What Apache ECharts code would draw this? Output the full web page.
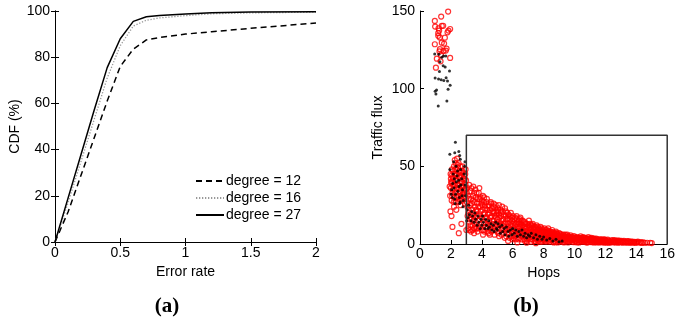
<!DOCTYPE html>
<html>
<head>
<meta charset="utf-8">
<script src="https://cdn.jsdelivr.net/npm/echarts@6/dist/echarts.min.js"></script>
<style>
  html, body { margin: 0; padding: 0; background: #fff; }
  #chart { width: 678px; height: 322px; }
</style>
</head>
<body>
<div id="chart"></div>
<script>
// ---- (a) CDF of error rate for three node degrees ----
const errorRate = [0, 0.1, 0.2, 0.3, 0.4, 0.5, 0.6, 0.7, 0.8, 1.0, 1.2, 1.5, 2.0];
const cdfDegree12 = [0, 13, 29, 45, 61, 76, 83.5, 87.5, 88.5, 90, 91, 92.5, 94.8];
const cdfDegree16 = [0, 17, 35, 53, 71, 85, 93.5, 96, 97, 98, 98.8, 99.2, 99.5];
const cdfDegree27 = [0, 19, 38, 57, 75.5, 88, 95.5, 97.5, 98, 98.7, 99.2, 99.6, 99.7];
const legendNames = ['degree = 12', 'degree = 16', 'degree = 27'];
const xTicksA = [0, 0.5, 1, 1.5, 2];
const yTicksA = [0, 20, 40, 60, 80, 100];

// ---- (b) traffic flux against hop count ----
// red circles: [hops, flux]
const redFlux = [
  // short paths, heavy traffic
  [0.96,143.6],[1.37,146.4],[1.82,149.6],[1.41,140.4],[0.98,140],[1.2,138.9],[1.24,137.4],[1.18,135.7],
  [1.95,138.4],[1.84,137.4],[1.78,136.3],[1.61,132.8],[1.18,134],[1.41,129.6],[1.56,129],[0.96,128.6],
  [1.72,125.8],[1.29,125.4],[1.26,124],[1.52,124.3],[1.67,124.5],[1.35,121.7],[1.95,119.8],[1.09,119.3],
  [1.33,117.6],[1.03,113.5],[1.28,133],[1.5,140.5],
  // two hops
  [2.0,42],[2.05,44],[2.1,40],[2.15,47],[2.2,50],[2.25,54],[2.3,52],[2.35,48],[2.4,45],[2.45,49],
  [2.5,52],[2.55,47],[2.6,43],[2.65,40],[2.7,44],[2.8,46],[2.9,42],[2.95,38],[2.0,36],[2.1,33],
  [2.15,38],[2.25,35],[2.3,41],[2.4,38],[2.5,36],[2.6,34],[2.7,37],[2.8,33],[2.9,35],[1.95,31],
  [2.05,28],[2.2,30],[2.3,27],[2.45,31],[2.55,29],[2.65,31],[2.75,28],[2.85,30],[1.97,21],[2.04,18],
  [2.1,11],[2.51,7],[2.2,24],[2.35,22],[2.62,25],[2.9,26],[2.02,40],[2.12,43],[2.4,55],[2.6,50],
  [2.75,50],[2.95,48],[2.88,39],[2.68,13],
  [1.92,37],[1.98,45],[2.03,39],[2.07,48],[2.08,31],[2.13,35],[2.17,42],[2.18,27],[2.22,45],[2.23,38],
  [2.27,48],[2.28,33],[2.33,44],[2.37,36],[2.38,30],[2.42,41],[2.43,51],[2.47,38],[2.48,27],[2.53,43],
  [2.57,33],[2.58,39],[2.63,46],[2.67,35],[2.68,29],[2.72,40],[2.73,47],[2.77,32],[2.78,42],[2.83,37],
  [2.87,44],[2.92,31],[2.93,45],[2.97,35],[2.98,41],
  // three hops and beyond
  [3.05,36],[3.1,31],[3.02,27],[3.15,22],[3.08,18],[3.2,14],[3.12,10],[3.25,34],[3.3,29],[3.22,25],
  [3.28,19],[3.18,38],[3.35,16],[3.21,9],[3.4,12],[3.3,8],[3.4,9],[3.5,10],[3.0,9],
  [3.03,33],[3.07,24],[3.13,20],[3.17,29],[3.24,16],[3.27,12],[3.33,36],[3.37,26],[3.39,22],[3.44,31],
  [3.46,18],[3.47,15],
  [3.45,37],[3.5,33],[3.42,28],[3.55,24],[3.48,20],[3.6,17],[3.52,13],[3.65,10],[3.58,35],[3.62,30],
  [3.7,26],[3.68,21],[3.75,15],[3.5,7],[3.72,8],[3.8,33],
  [3.53,27],[3.57,11],[3.63,22],[3.66,33],[3.69,18],[3.74,29],[3.78,24],[3.79,10],[3.84,36],[3.87,16],
  [3.92,30],[3.93,21],[3.97,26],[3.99,9],
  [3.85,29],[3.9,24],[3.82,19],[3.95,13],[3.88,11],[4.0,28],[4.05,22],[4.02,17],[4.1,9],[4.08,6],
  [4.15,30],[4.2,25],[4.18,20],[4.12,14],[4.25,11],
  [4.03,25],[4.07,31],[4.11,19],[4.14,27],[4.17,8],[4.22,17],[4.24,23],[4.27,13],[4.33,29],[4.36,10],
  [4.39,19],[4.42,24],[4.44,7],[4.47,12],
  [4.3,27],[4.35,22],[4.28,17],[4.4,13],[4.38,8],[4.45,25],[4.5,20],[4.48,15],[4.55,11],[4.52,6],
  [4.6,26],[4.65,23],[4.62,18],[4.7,13],[4.68,9],
  [4.53,22],[4.57,17],[4.58,27],[4.63,8],[4.67,15],[4.72,21],[4.74,10],[4.77,26],[4.83,18],[4.87,23],
  [4.89,9],[4.93,13],[4.97,19],
  [4.75,24],[4.8,20],[4.78,15],[4.85,11],[4.82,6],[4.9,25],[4.95,21],[4.92,17],[5.0,12],[4.98,8],
  [5.05,23],[5.1,19],[5.08,14],[5.15,10],[5.12,5],[5.2,22],
  [5.02,16],[5.03,21],[5.07,7],[5.11,25],[5.14,17],[5.18,12],[5.23,20],[5.27,15],[5.28,6],[5.32,24],
  [5.36,10],[5.42,19],[5.44,13],[5.48,4],
  [5.25,18],[5.22,13],[5.3,9],[5.35,21],[5.4,16],[5.38,12],[5.45,7],[5.5,23],[5.55,18],[5.52,14],
  [5.6,10],[5.58,5],[5.65,20],[5.7,16],[5.68,11],[5.75,7],[5.8,18],[5.7,2],
  [5.53,9],[5.56,21],[5.62,16],[5.63,7],[5.67,13],[5.73,19],[5.77,10],[5.79,4],[5.83,16],[5.87,12],
  [5.88,20],[5.93,8],[5.97,15],[5.99,3],
  [5.85,14],[5.82,9],[5.9,5],[5.95,17],[6.0,13],[5.98,8],[6.05,4],[6.1,16],[6.15,12],[6.12,7],
  [6.2,3],[6.25,18],[6.3,14],[6.28,10],[6.35,6],[6.4,15],[6.45,11],[6.42,4],[6.5,17],[6.3,1],
  [6.02,18],[6.07,10],[6.08,14],[6.13,5],[6.17,17],[6.18,9],[6.22,13],[6.23,6],[6.27,16],[6.33,11],
  [6.37,8],[6.38,3],[6.43,13],[6.47,16],[6.48,7],
  [6.55,13],[6.52,8],[6.6,5],[6.65,15],[6.7,11],[6.68,7],[6.75,3],[6.8,14],[6.85,10],[6.82,6],
  [6.9,2],[6.95,13],[7.0,9],[6.98,5],[7.05,15],[7.1,11],[7.08,7],[7.15,3],[7.2,12],[6.9,0.8],
  [6.53,11],[6.57,15],[6.58,3],[6.62,9],[6.63,12],[6.67,5],[6.72,14],[6.73,8],[6.78,11],[6.79,2],
  [6.83,13],[6.87,5],[6.88,8],[6.93,11],[6.97,3],
  [7.25,8],[7.22,5],[7.3,13],[7.35,10],[7.32,6],[7.4,2],[7.45,11],[7.5,8],[7.48,4],[7.55,12],
  [7.6,9],[7.58,5],[7.65,2],[7.7,10],[7.75,7],[7.72,3],[7.8,11],[7.85,8],[7.82,4],[7.9,1.5],
  [7.95,9],[7.5,0.5],
  [7.02,12],[7.03,7],[7.07,4],[7.12,13],[7.13,9],[7.17,6],[7.18,1.5],[7.23,10],[7.27,3],[7.28,12],
  [7.33,8],[7.37,4],[7.38,11],[7.42,7],[7.43,9],[7.47,2],
  [7.52,10],[7.53,6],[7.57,3],[7.62,11],[7.63,7],[7.67,4],[7.68,9],[7.73,6],[7.77,9],[7.78,1.5],
  [7.83,6],[7.87,3],[7.88,10],[7.92,7],[7.93,4],[7.97,8],
  [8.0,6],[7.98,3],[8.05,10],[8.1,7],[8.08,4],[8.15,1.5],[8.2,9],[8.25,6],[8.22,3],[8.3,10],
  [8.35,7],[8.32,4],[8.4,1.5],[8.45,8],[8.5,5],[8.48,2.5],[8.55,9],[8.6,6],[8.58,3],[8.65,1],
  [8.7,7],[8.75,4.5],[8.72,2],[8.8,8],[8.85,5],[8.82,2.5],[8.9,6],[8.95,3.5],[8.92,1],
  [8.02,8],[8.03,2],[8.07,5],[8.12,9],[8.13,3],[8.17,6],[8.18,8],[8.23,4.5],[8.27,7.5],[8.28,2],
  [8.33,8.5],[8.37,5.5],[8.38,3],[8.42,7],[8.43,4.5],[8.47,6.5],
  [8.52,3.5],[8.53,7.5],[8.57,4.5],[8.62,7.5],[8.63,1.5],[8.67,5.5],[8.68,3.5],[8.73,6],[8.77,1.2],[8.78,5.5],
  [8.83,7],[8.87,3.5],[8.88,6.5],[8.93,5],[8.97,2],
  [9.0,7],[9.05,5],[9.02,2],[9.1,4],[9.15,6],[9.12,1.5],[9.2,3],[9.25,5.5],[9.3,2.5],[9.35,4.5],
  [9.32,1],[9.4,6],[9.45,3.5],[9.5,2],[9.55,5],[9.6,3],[9.58,1],[9.65,4.5],[9.7,2],[9.75,5.5],
  [9.8,3.5],[9.85,1.5],[9.9,4],[9.95,2.5],
  [9.03,4],[9.07,6.5],[9.08,3],[9.13,5],[9.17,2.5],[9.22,4.5],[9.27,1.5],[9.28,6],[9.33,3.5],[9.38,5],
  [9.42,2],[9.47,4.5],[9.52,3.5],[9.53,6],[9.57,2],[9.62,5],[9.67,3.5],[9.72,4],[9.77,2.5],[9.82,4.5],
  [9.87,3],[9.92,5],[9.97,1.2],
  [10.0,5],[10.05,3],[10.1,1.5],[10.15,4.5],[10.2,2.5],[10.25,4],[10.3,1],[10.35,3.5],[10.4,5],[10.45,2],
  [10.5,3.5],[10.55,4.5],[10.6,1.5],[10.65,3],[10.7,4],[10.75,2],[10.8,3.5],[10.85,1],[10.9,4.5],[10.95,2.5],
  [10.02,4],[10.07,2],[10.12,3.5],[10.17,1],[10.22,3.8],[10.27,2.5],[10.32,4.2],[10.37,1.8],[10.42,3],[10.47,4],
  [10.52,1.5],[10.57,2.5],[10.62,4],[10.67,2],[10.72,3],[10.77,1],[10.82,2.5],[10.87,3.5],[10.92,1.5],[10.97,3.5],
  [11.0,3.5],[11.05,1.5],[11.1,4],[11.15,2.5],[11.2,3.5],[11.25,1],[11.3,3],[11.35,2],[11.4,3.5],[11.5,1.5],
  [11.55,2.8],[11.6,1],[11.65,3],[11.7,2],[11.8,2.5],[11.85,1],[11.9,3],[11.95,1.8],
  [11.02,2.5],[11.07,3.5],[11.12,1.2],[11.17,3],[11.22,2],[11.27,3.5],[11.32,1.2],[11.42,2.2],[11.45,1],[11.47,3],
  [11.52,2],[11.62,2],[11.67,1.2],[11.75,3],[11.77,1.5],[11.82,2],[11.92,1],[11.97,2.8],
  [12.0,2.5],[12.1,1.2],[12.15,2.8],[12.25,1.8],[12.3,0.8],[12.4,2.2],[12.5,1.5],[12.6,2.5],[12.65,1],[12.75,2],
  [12.85,1.2],[12.9,2.2],
  [12.05,2],[12.07,0.8],[12.2,2.2],[12.22,1],[12.35,1.5],[12.45,2.5],[12.55,1],[12.58,2],[12.7,1.5],[12.8,2.2],
  [12.82,0.8],[12.95,1.2],
  [13.0,1.5],[13.1,0.8],[13.2,2],[13.3,1.2],[13.4,1.8],[13.55,1],[13.65,1.5],[13.8,0.8],[13.9,1.4],[14.0,1],
  [14.1,1.5],[14.45,1],[14.7,0.8],[14.9,0.8],[15.0,0.6],
  [13.05,2],[13.15,1.2],[13.25,1.6],[13.35,0.8],[13.45,1.2],[13.5,1.8],[13.6,0.8],[13.7,1.2],[13.75,1.6],[13.85,1.1],
  [13.95,0.8],[14.05,1.2],[14.2,0.9],[14.3,1.2],[14.35,0.7],[14.55,0.8]
];
// black dots: [hops, flux]
const blackFlux = [
  [0.95,122.3],[1.22,122.1],[1.52,121],[1.67,121],[1.41,120.2],[1.29,117.4],[1.5,114.8],[1.63,114],
  [1.26,111],[1.91,111.4],[0.98,106.9],[1.2,106.2],[1.37,105.8],[1.54,105.2],[1.69,107.1],[1.78,105],
  [1.95,102.2],[1.82,99.6],[0.98,98.3],[1.07,99.2],[1.03,96.6],[1.74,92.1],[1.18,88.9],
  [2.29,65.5],[1.93,57.8],[2.25,58.8],[2.51,59.5],[2.57,56.9],[2.61,54.5],[2.91,53],[2.18,53],[1.93,48],
  [2.27,26],[2.57,26],[2.78,24],[2.02,32],[2.2,36],[2.35,40],[2.45,34],[2.55,30],[2.65,38],[2.4,44],
  [2.7,42],[2.85,45],[2.1,30],[2.3,32],[2.6,27],[2.8,28],[2.95,31],[2.5,41],[2.25,29],[2.05,35],[2.75,35],
  [2.15,45],[2.33,50],[2.43,47],[2.63,48],[2.88,50],[2.22,42],[2.52,37],[2.72,31],[2.92,38],[2.12,39],
  [3.05,22],[3.1,17],[3.15,25],[3.2,19],[3.3,15],[3.35,21],[3.4,18],[3.5,14],[3.55,20],[3.6,16],
  [3.7,12],[3.75,18],[3.8,14],[3.9,10],[3.95,16],[3.02,15],
  [4.0,12],[4.05,18],[4.1,14],[4.2,10],[4.25,16],[4.3,12],[4.4,10],[4.45,15],[4.5,11],[4.6,13],
  [4.65,9],[4.75,12],[4.8,8],[4.9,14],[4.95,10],
  [5.0,9],[5.05,13],[5.15,11],[5.2,7],[5.3,12],[5.35,8],[5.45,10],[5.5,6],[5.6,11],[5.7,8],
  [5.75,5],[5.85,9],[5.95,6],
  [6.0,10],[6.1,7],[6.2,9],[6.3,5],[6.4,8],[6.5,6],[6.6,9],[6.7,5],[6.8,7],[6.9,4],[7.0,6],
  [7.1,5],[7.2,7],[7.35,4],[7.5,6],[7.6,3],[7.75,5],[7.9,3],[8.0,4.5],[8.2,2.5],[8.4,3.5],
  [8.6,2],[8.8,3],[9.0,1.5],[9.2,2]
];
// highlighted region
const boxHops = [3, 16];
const boxFlux = [0, 70];
const xTicksB = [0, 2, 4, 6, 8, 10, 12, 14, 16];
const yTicksB = [0, 50, 100, 150];

const FONT = 'Liberation Sans, Arial, sans-serif';
const SERIF = 'Liberation Serif, Times New Roman, serif';
const axisText = { color: '#000', fontFamily: FONT, fontSize: 14 };

function zip(xs, ys) { return xs.map((x, i) => [x, ys[i]]); }

const boxPath = [
  [boxHops[0], boxFlux[0]], [boxHops[0], boxFlux[1]],
  [boxHops[1], boxFlux[1]], [boxHops[1], boxFlux[0]]
];

function valueAxis(opts) {
  return Object.assign({
    type: 'value',
    axisLine: { show: true, lineStyle: { color: '#000', width: 1 } },
    axisTick: { show: true, inside: true, length: 4, lineStyle: { color: '#000' } },
    splitLine: { show: false },
    axisLabel: Object.assign({ margin: 5 }, axisText),
    nameTextStyle: { color: '#000', fontFamily: FONT, fontSize: 14 }
  }, opts);
}

const chart = echarts.init(document.getElementById('chart'), null, { renderer: 'canvas' });

chart.setOption({
  backgroundColor: '#fff',
  animation: false,
  grid: [
    { left: 55, top: 11, width: 261, height: 231 },
    { left: 420, top: 11, width: 249, height: 233 }
  ],
  xAxis: [
    valueAxis({ gridIndex: 0, min: xTicksA[0], max: xTicksA[xTicksA.length - 1], interval: 0.5,
      name: 'Error rate', nameLocation: 'middle', nameGap: 20,
      axisLabel: Object.assign({ margin: 4 }, axisText) }),
    valueAxis({ gridIndex: 0, position: 'top', min: xTicksA[0], max: xTicksA[xTicksA.length - 1], interval: 0.5,
      axisLabel: { show: false } }),
    valueAxis({ gridIndex: 1, min: xTicksB[0], max: xTicksB[xTicksB.length - 1], interval: 2,
      name: 'Hops', nameLocation: 'middle', nameGap: 21,
      axisLabel: Object.assign({ margin: 3 }, axisText) })
  ],
  yAxis: [
    valueAxis({ gridIndex: 0, min: yTicksA[0], max: yTicksA[yTicksA.length - 1], interval: 20,
      name: 'CDF (%)', nameLocation: 'middle', nameGap: 33 }),
    valueAxis({ gridIndex: 0, position: 'right', min: yTicksA[0], max: yTicksA[yTicksA.length - 1], interval: 20,
      axisLabel: { show: false } }),
    valueAxis({ gridIndex: 1, min: yTicksB[0], max: yTicksB[yTicksB.length - 1], interval: 50,
      name: 'Traffic flux', nameLocation: 'middle', nameGap: 35 })
  ],
  legend: {
    data: legendNames,
    orient: 'vertical',
    left: 190,
    top: 169,
    itemWidth: 28,
    itemHeight: 14,
    itemGap: 3,
    itemStyle: { opacity: 0 },
    textStyle: { color: '#000', fontFamily: FONT, fontSize: 14, padding: [0, 0, 0, -3] },
    selectedMode: false
  },
  series: [
    { name: legendNames[0], type: 'line', xAxisIndex: 0, yAxisIndex: 0, data: zip(errorRate, cdfDegree12),
      symbol: 'none', lineStyle: { color: '#000', width: 1.5, type: [6, 4] }, itemStyle: { color: '#000' } },
    { name: legendNames[1], type: 'line', xAxisIndex: 0, yAxisIndex: 0, data: zip(errorRate, cdfDegree16),
      symbol: 'none', lineStyle: { color: '#999', width: 1.3, type: [1.3, 1.7] }, itemStyle: { color: '#999' } },
    { name: legendNames[2], type: 'line', xAxisIndex: 0, yAxisIndex: 0, data: zip(errorRate, cdfDegree27),
      symbol: 'none', lineStyle: { color: '#000', width: 1.5 }, itemStyle: { color: '#000' } },
    { name: 'red', type: 'scatter', xAxisIndex: 2, yAxisIndex: 2, data: redFlux,
      symbol: 'circle', symbolSize: 5,
      itemStyle: { color: 'rgba(255,255,255,0)', borderColor: '#ff0000', borderWidth: 1.2 } },
    { name: 'black', type: 'scatter', xAxisIndex: 2, yAxisIndex: 2, data: blackFlux,
      symbol: 'circle', symbolSize: 3, itemStyle: { color: '#000' }, z: 3 },
    { name: 'box', type: 'line', xAxisIndex: 2, yAxisIndex: 2, data: boxPath,
      symbol: 'none', lineStyle: { color: '#333', width: 1.5 }, z: 4 }
  ],
  graphic: [
    { type: 'text', x: 167, y: 307, style: { text: '(a)', fontFamily: SERIF,
      fontWeight: 'bold', fontSize: 21, fill: '#000', align: 'center', verticalAlign: 'middle' } },
    { type: 'text', x: 526, y: 307, style: { text: '(b)', fontFamily: SERIF,
      fontWeight: 'bold', fontSize: 21, fill: '#000', align: 'center', verticalAlign: 'middle' } }
  ]
});
</script>
</body>
</html>
